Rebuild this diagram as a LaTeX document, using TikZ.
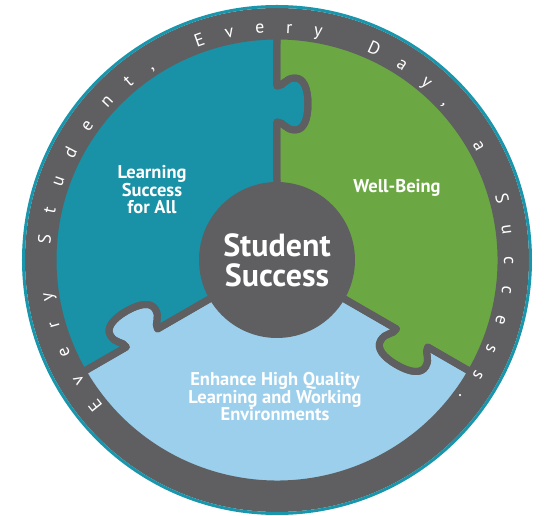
\documentclass[tikz,border=0pt]{standalone}
\usepackage{fontspec}
\setmainfont{PT Sans}
\usepackage{tikz}
\usetikzlibrary{decorations.text}
\definecolor{ringgray}{RGB}{95,95,97}
\definecolor{rimteal}{RGB}{26,150,172}
\definecolor{learnteal}{RGB}{25,145,166}
\definecolor{wellgreen}{RGB}{107,168,67}
\definecolor{envblue}{RGB}{155,207,236}
\tikzset{
  puzzlepiece/.style={insert path={
    (90:216) .. controls (90:224) .. (92:224)
    arc[start angle=92, end angle=208, radius=224]
    .. controls (210:224) .. (210:216)
    -- ([rotate=210]174,0) .. controls ([rotate=210]174,-7) and ([rotate=210]182,-8) .. ([rotate=210]182,-18)
    .. controls ([rotate=210]182,-27) and ([rotate=210]171,-31) .. ([rotate=210]156,-31)
    .. controls ([rotate=210]141,-31) and ([rotate=210]130,-27) .. ([rotate=210]130,-18)
    .. controls ([rotate=210]130,-8) and ([rotate=210]138,-7) .. ([rotate=210]138,0)
    -- (210:80.5) .. controls (210:74.5) .. (205.4:74.5)
    arc[start angle=205.4, end angle=94.6, radius=74.5]
    .. controls (90:74.5) .. (90:80.5)
    -- ([rotate=90]138,0) .. controls ([rotate=90]138,-7) and ([rotate=90]130,-8) .. ([rotate=90]130,-18)
    .. controls ([rotate=90]130,-27) and ([rotate=90]141,-31) .. ([rotate=90]156,-31)
    .. controls ([rotate=90]171,-31) and ([rotate=90]182,-27) .. ([rotate=90]182,-18)
    .. controls ([rotate=90]182,-8) and ([rotate=90]174,-7) .. ([rotate=90]174,0)
    -- cycle}},
  gapline/.style={draw=ringgray, line width=7pt, line join=round},
  core/.style={
    circle,
    fill=ringgray,
    minimum size=154pt,
    inner sep=0pt,
    text=white,
    align=center,
    font=\bfseries\fontsize{32}{30}\selectfont},
  piecetext/.style={
    text=white,
    align=center,
    font=\bfseries\fontsize{18.5}{17.5}\selectfont},
}

\begin{document}
\begin{tikzpicture}[x=1pt, y=1pt]
  \useasboundingbox (-277,-256) rectangle (272,260);
  \fill[ringgray] (0,0) circle (252);
  \draw[rimteal, line width=3pt] (0,0) circle (253.5);
  \foreach \ang/\col in {0/learnteal, -120/wellgreen, 120/envblue}
    \fill[\col, rotate=\ang, puzzlepiece];
  \foreach \ang in {0, 120, 240}
    \path[gapline, rotate=\ang, puzzlepiece];
  \node[core] (StudentSuccess) at (0,0) {Student\\Success};
  \node[piecetext] (LearningSuccess) at (-125,70) {Learning\\Success\\for All};
  \node[piecetext] (WellBeing) at (120,72) {Well-Being};
  \node[piecetext] (Environments) at (-2,-137) {Enhance High Quality\\Learning and Working\\Environments};
  % motto round the ring
  \path[decorate, decoration={text along path, text align=fit to path,
      text={|\color{white}\fontsize{18}{18}\selectfont|Every Student, Every Day, a Success.}}]
    (220:227) arc[start angle=220, end angle=-37, radius=227];
\end{tikzpicture}
\end{document}
